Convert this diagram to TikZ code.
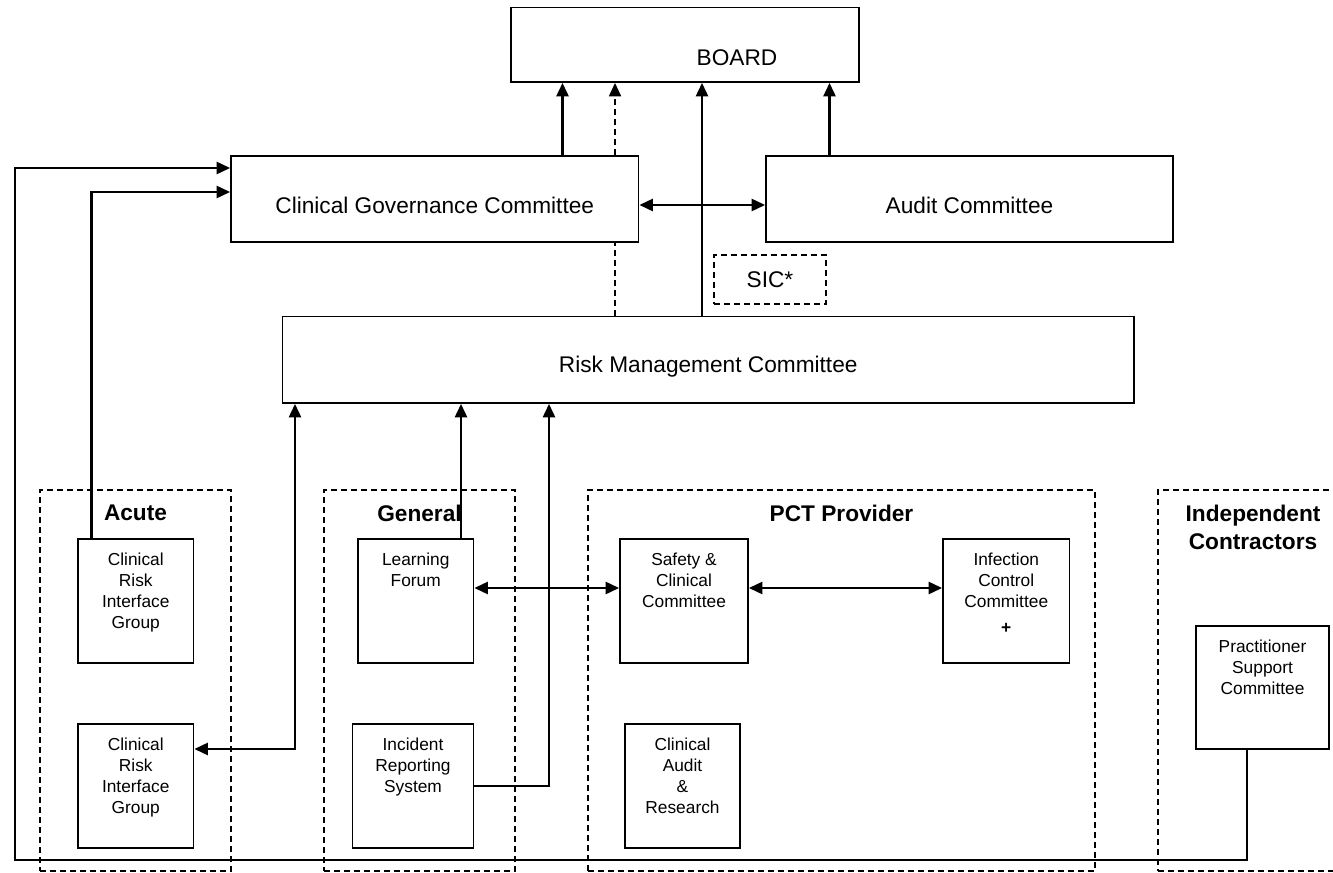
\documentclass[tikz,border=0pt]{standalone}
\usepackage{fontspec}
\setmainfont{Liberation Sans}
\usetikzlibrary{arrows.meta,fit}
\begin{document}
\begin{tikzpicture}[x=0.75pt,y=-0.75pt,
  box/.style={draw, line width=1.4pt, inner sep=0pt},
  grp/.style={draw, line width=1pt, dash pattern=on 4.5pt off 3pt, inner sep=0pt},
  big/.style={font=\fontsize{17}{20}\selectfont, inner sep=0pt, anchor=center},
  small/.style={font=\fontsize{13}{15.75}\selectfont, align=center, inner sep=0pt, anchor=north, yshift=-11pt},
  head/.style={font=\bfseries\fontsize{17}{21}\selectfont, align=center, inner sep=0pt, anchor=north, yshift=-11.25pt},
  link/.style={line width=1.7pt},
  tip/.style={-{Triangle[length=10pt,width=9pt]}},
  both/.style={{Triangle[length=10pt,width=9pt]}-{Triangle[length=10pt,width=9pt]}},
  dashlink/.style={line width=1.2pt, dash pattern=on 4.5pt off 3pt}]
\useasboundingbox (0,0) rectangle (1333,873);

% group frames
\node[grp, fit={(40,490) (231,871)}, label={[head]north:Acute}] (acute) {};
\node[grp, fit={(324,490) (515,871)}, label={[head]north:General}] (general) {};
\node[grp, fit={(588,490) (1095,871)}, label={[head]north:PCT Provider}] (pct) {};
\node[grp, fit={(1158,490) (1348,871)}, label={[head]north:Independent\\Contractors}] (indep) {};

% committees
\node[box, fit={(511,7.5) (859,82)}, label={[big,xshift=39pt,yshift=-9.4pt]center:BOARD}] (board) {};
\node[box, fit={(231,156) (638.5,242)}, label={[big,yshift=-4.5pt]center:Clinical Governance Committee}] (cgc) {};
\node[box, fit={(766,156) (1173,242)}, label={[big,yshift=-4.5pt]center:Audit Committee}] (audit) {};
\node[grp, fit={(714,255) (826,304)}, label={[big]center:SIC*}] (sic) {};
\node[box, fit={(282.5,316.5) (1134,403)}, label={[big,yshift=-4.9pt]center:Risk Management Committee}] (rmc) {};

\node[box, fit={(78,539) (193.5,663)}, label={[small]north:Clinical\\Risk\\Interface\\Group}] (cr1) {};
\node[box, fit={(78,724) (193.5,848)}, label={[small]north:Clinical\\Risk\\Interface\\Group}] (cr2) {};
\node[box, fit={(358,539) (473.5,663)}, label={[small]north:Learning\\Forum}] (lf) {};
\node[box, fit={(352.5,724) (473.5,848)}, label={[small]north:Incident\\Reporting\\System}] (irs) {};
\node[box, fit={(620,539) (748,663)}, label={[small]north:Safety \&\\Clinical\\Committee}] (safety) {};
\node[box, fit={(943,539) (1069.5,663)}, label={[small]north:Infection\\Control\\Committee\\[3.5pt]\textbf{+}}] (infect) {};
\node[box, fit={(625,724) (740,848)}, label={[small]north:Clinical\\Audit\\\&\\Research}] (audres) {};
\node[box, fit={(1196,626) (1329,749)}, label={[small]north:Practitioner\\Support\\Committee}] (prac) {};

% routing guides
\coordinate (xA) at (562.5,0);
\coordinate (xB) at (615,0);
\coordinate (xC) at (702,0);
\coordinate (xD) at (829.5,0);
\coordinate (yA) at (0,205);
\coordinate (xL) at (15,0);
\coordinate (yL) at (0,860);
\coordinate (yT) at (0,168);
\coordinate (xP) at (1247,0);
\coordinate (xI) at (91.5,0);
\coordinate (yI) at (0,192);
\coordinate (xR) at (295,0);
\coordinate (yR) at (0,749);
\coordinate (xF) at (461,0);
\coordinate (xS) at (549,0);
\coordinate (yS) at (0,786);
\coordinate (yM) at (0,588);

% reporting lines to the board
\draw[link,tip] (cgc.north -| xA) -- (board.south -| xA);
\draw[dashlink] (rmc.north -| xB) -- (cgc.south -| xB);
\draw[dashlink,tip] (cgc.north -| xB) -- (board.south -| xB);
\draw[link,tip] (rmc.north -| xC) -- (board.south -| xC);
\draw[link,tip] (audit.north -| xD) -- (board.south -| xD);
\draw[link,both] (cgc.east |- yA) -- (audit.west |- yA);

% lines into the clinical governance committee
\draw[link,tip] (prac.south -| xP) |- (xL |- yL) |- (cgc.west |- yT);
\draw[link,tip] (cr1.north -| xI) |- (cgc.west |- yI);

% lines into the risk management committee
\draw[link,both] (cr2.east |- yR) -| (rmc.south -| xR);
\draw[link,tip] (lf.north -| xF) -- (rmc.south -| xF);
\draw[link,tip] (irs.east |- yS) -| (rmc.south -| xS);

% links between forums
\draw[link,both] (lf.east |- yM) -- (safety.west |- yM);
\draw[link,both] (safety.east |- yM) -- (infect.west |- yM);
\end{tikzpicture}
\end{document}
